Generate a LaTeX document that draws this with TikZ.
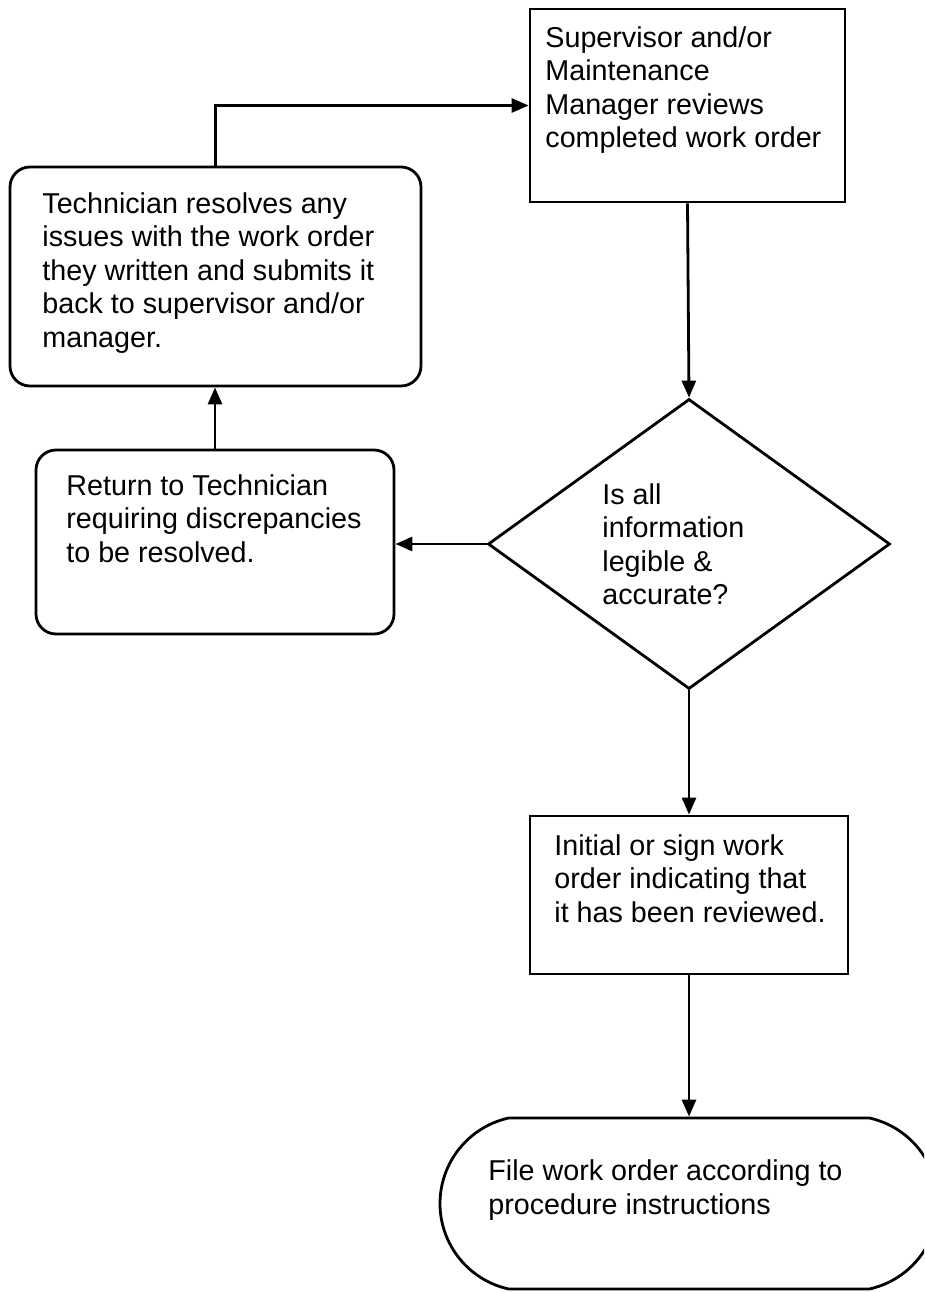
\documentclass[tikz,border=0pt]{standalone}
\usepackage{fontspec}
\setmainfont{Liberation Sans}
\usetikzlibrary{shapes.geometric,shapes.misc,arrows.meta}

\begin{document}
\begin{tikzpicture}[x=1pt,y=-1pt,line width=2.8pt,
    procbox/.style={draw,rectangle,inner sep=0pt},
    roundbox/.style={draw,rectangle,rounded corners=20pt,inner sep=0pt},
    decision/.style={draw,diamond,inner sep=0pt,minimum width=402pt,minimum height=290pt},
    terminal/.style={draw,rounded rectangle,rounded rectangle arc length=155,inner sep=0pt},
    boxtext/.style={anchor=base west,align=left,inner sep=0pt,font=\fontsize{28.7}{33.5}\selectfont},
    flow/.style={-{Triangle[length=17pt,width=14pt]}}]
    \useasboundingbox (0,0) rectangle (924,1292);
    \clip (0,0) rectangle (924,1292);
    % Review step at top right (text placed by its last baseline)
    \node[procbox,minimum width=315pt,minimum height=193pt] (review) at (687.5,105.5) {};
    \node[boxtext] (reviewtext) at (544,148)
        {Supervisor and/or\\Maintenance\\Manager reviews\\completed work order};
    % Technician fixes the order
    \node[roundbox,minimum width=411pt,minimum height=219pt] (fix) at (215.5,276.5) {};
    \node[boxtext] (fixtext) at (41,347)
        {Technician resolves any\\issues with the work order\\they written and submits it\\back to supervisor and/or\\manager.};
    % Sent back to technician
    \node[roundbox,minimum width=358pt,minimum height=184pt] (back) at (215,542) {};
    \node[boxtext] (backtext) at (65,562)
        {Return to Technician\\requiring discrepancies\\to be resolved.};
    % Check
    \node[decision] (check) at (689,544) {};
    \node[boxtext] (checktext) at (601,604.5)
        {Is all\\information\\legible \&\\accurate?};
    % Sign off
    \node[procbox,minimum width=318pt,minimum height=158pt] (sign) at (689,895) {};
    \node[boxtext] (signtext) at (553,922)
        {Initial or sign work\\order indicating that\\it has been reviewed.};
    % Filing, cut by the page edge
    \node[terminal,minimum width=498pt,minimum height=171pt] (filing) at (689,1203.5) {};
    \node[boxtext] (filingtext) at (487,1214)
        {File work order according to\\procedure instructions};
    % Connectors
    \draw[flow] (fix.north) |- (review.west);
    \draw[flow] (review.south) -- (check.north);
    \draw[flow] (check.west) -- (check.west -| back.east);
    \draw[flow] (back.north) -- (back.north |- fix.south);
    \draw[flow] (check.south) -- (sign.north);
    \draw[flow] (sign.south) -- (filing.north);
\end{tikzpicture}
\end{document}
